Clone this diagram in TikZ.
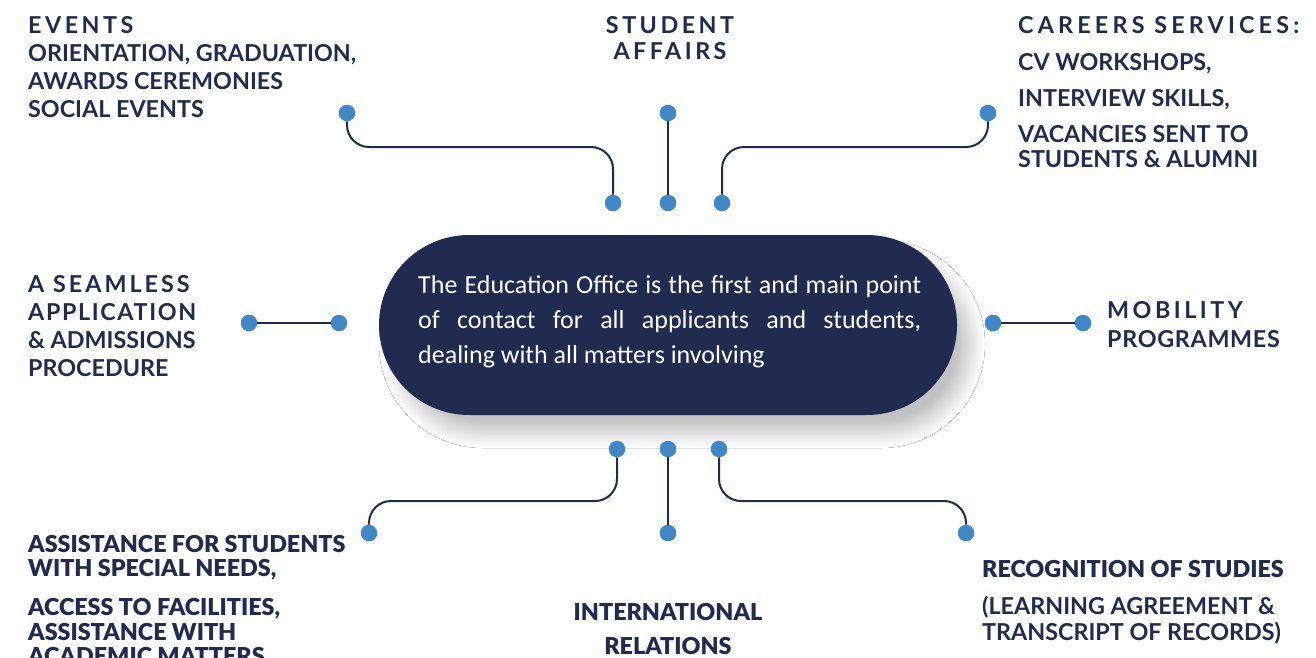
\documentclass[tikz,border=0pt]{standalone}
\usepackage{fontspec}
\setmainfont{Lato}
\newfontfamily\hd{Lato Bold}
\newfontfamily\hv{Lato Black}
\newfontfamily\pl{Carlito}
\usetikzlibrary{shadows.blur}
\definecolor{navy}{RGB}{33,43,80}
\definecolor{dotblue}{RGB}{64,135,200}
\newcommand{\ls}[2]{{\addfontfeatures{LetterSpace=#1}#2}}
\begin{document}
\begin{tikzpicture}[x=1pt,y=-1pt,
  dot/.style={circle, fill=dotblue, inner sep=0pt, minimum size=16.5pt},
  wire/.style={draw=navy, line width=2pt, rounded corners=22pt},
  lbl/.style={inner sep=0pt, text=navy, font=\hd\fontsize{23.3}{28.3}\selectfont},
  hlbl/.style={inner sep=0pt, text=navy, font=\hv\fontsize{23.3}{24.5}\selectfont},
]
\clip (0,0) rectangle (1316,657);
\fill[white] (0,0) rectangle (1316,657);

% central pill
\node[fill=navy, rounded corners=90pt, minimum width=578pt, minimum height=180pt, inner sep=0pt,
  blur shadow={shadow xshift=14pt, shadow yshift=-19pt, shadow blur radius=14pt, shadow opacity=24, shadow blur steps=30}]
  (pill) at (668,325) {};
\node[anchor=base west, inner sep=0pt, text=white, font=\pl\fontsize{26}{35}\selectfont] (pilltext) at (418,293)
  {\parbox[t]{503pt}{The Education Office is the first and main point\linebreak of contact for all applicants and students,\linebreak dealing with all matters involving}};

% dots
\node[dot] (tl) at (347,113) {};
\node[dot] (tlb) at (613,203) {};
\node[dot] (tc) at (668,113) {};
\node[dot] (tcb) at (668,203) {};
\node[dot] (tr) at (988,113) {};
\node[dot] (trb) at (722,203) {};
\node[dot] (ml1) at (249,323) {};
\node[dot] (ml2) at (339,323) {};
\node[dot] (mr1) at (993,323) {};
\node[dot] (mr2) at (1083,323) {};
\node[dot] (bl) at (617,449) {};
\node[dot] (blb) at (369,533) {};
\node[dot] (bc) at (668,449) {};
\node[dot] (bcb) at (668,533) {};
\node[dot] (br) at (719,449) {};
\node[dot] (brb) at (966,533) {};

% knee coordinates
\coordinate (tlk) at (613,147);
\coordinate (trk) at (722,147);
\coordinate (blk) at (369,501);
\coordinate (brk) at (966,501);

% connectors
\draw[wire] (tl) |- (tlk) -- (tlb);
\draw[wire] (tc) -- (tcb);
\draw[wire] (tr) |- (trk) -- (trb);
\draw[wire] (ml1) -- (ml2);
\draw[wire] (mr1) -- (mr2);
\draw[wire] (bl) |- (blk) -- (blb);
\draw[wire] (bc) -- (bcb);
\draw[wire] (br) |- (brk) -- (brb);

% labels
\node[lbl, anchor=base west] (events) at (28,33)
  {\parbox[t]{420pt}{\ls{15}{EVENTS}\\ORIENTATION, GRADUATION,\\AWARDS CEREMONIES\\SOCIAL EVENTS}};
\node[lbl, anchor=base, font=\hd\fontsize{23.3}{26.5}\selectfont] (affairs) at (670,33)
  {\parbox[t]{220pt}{\centering\ls{15}{STUDENT}\\\ls{15}{AFFAIRS}}};
\node[lbl, anchor=base west, font=\hd\fontsize{23.3}{25}\selectfont] (careers) at (1018,33)
  {\parbox[t]{300pt}{\ls{18}{CAREERS SERVICES:}\\[12pt]CV WORKSHOPS,\\[11pt]INTERVIEW SKILLS,\\[11pt]VACANCIES SENT TO\\STUDENTS \& ALUMNI}};
\node[lbl, anchor=base west] (seamless) at (28,292)
  {\parbox[t]{220pt}{\ls{13}{A SEAMLESS}\\\ls{7}{APPLICATION}\\\& ADMISSIONS\\PROCEDURE}};
\node[lbl, anchor=base west, font=\hd\fontsize{23.3}{29}\selectfont] (mobility) at (1107,318)
  {\parbox[t]{220pt}{\ls{15}{MOBILITY}\\\ls{3}{PROGRAMMES}}};
\node[hlbl, anchor=base west] (assist) at (28,552)
  {\parbox[t]{400pt}{ASSISTANCE FOR STUDENTS\\WITH SPECIAL NEEDS,\\[14.5pt]ACCESS TO FACILITIES,\\ASSISTANCE WITH\\ACADEMIC MATTERS}};
\node[hlbl, anchor=base, font=\hv\fontsize{23.3}{34}\selectfont] (intl) at (668,620)
  {\parbox[t]{240pt}{\centering INTERNATIONAL\\RELATIONS}};
\node[lbl, anchor=base west, font=\hd\fontsize{23.3}{26}\selectfont] (recog) at (982,577)
  {\parbox[t]{330pt}{{\hv RECOGNITION OF STUDIES}\\[11pt](LEARNING AGREEMENT \&\\TRANSCRIPT OF RECORDS)}};
\end{tikzpicture}
\end{document}
